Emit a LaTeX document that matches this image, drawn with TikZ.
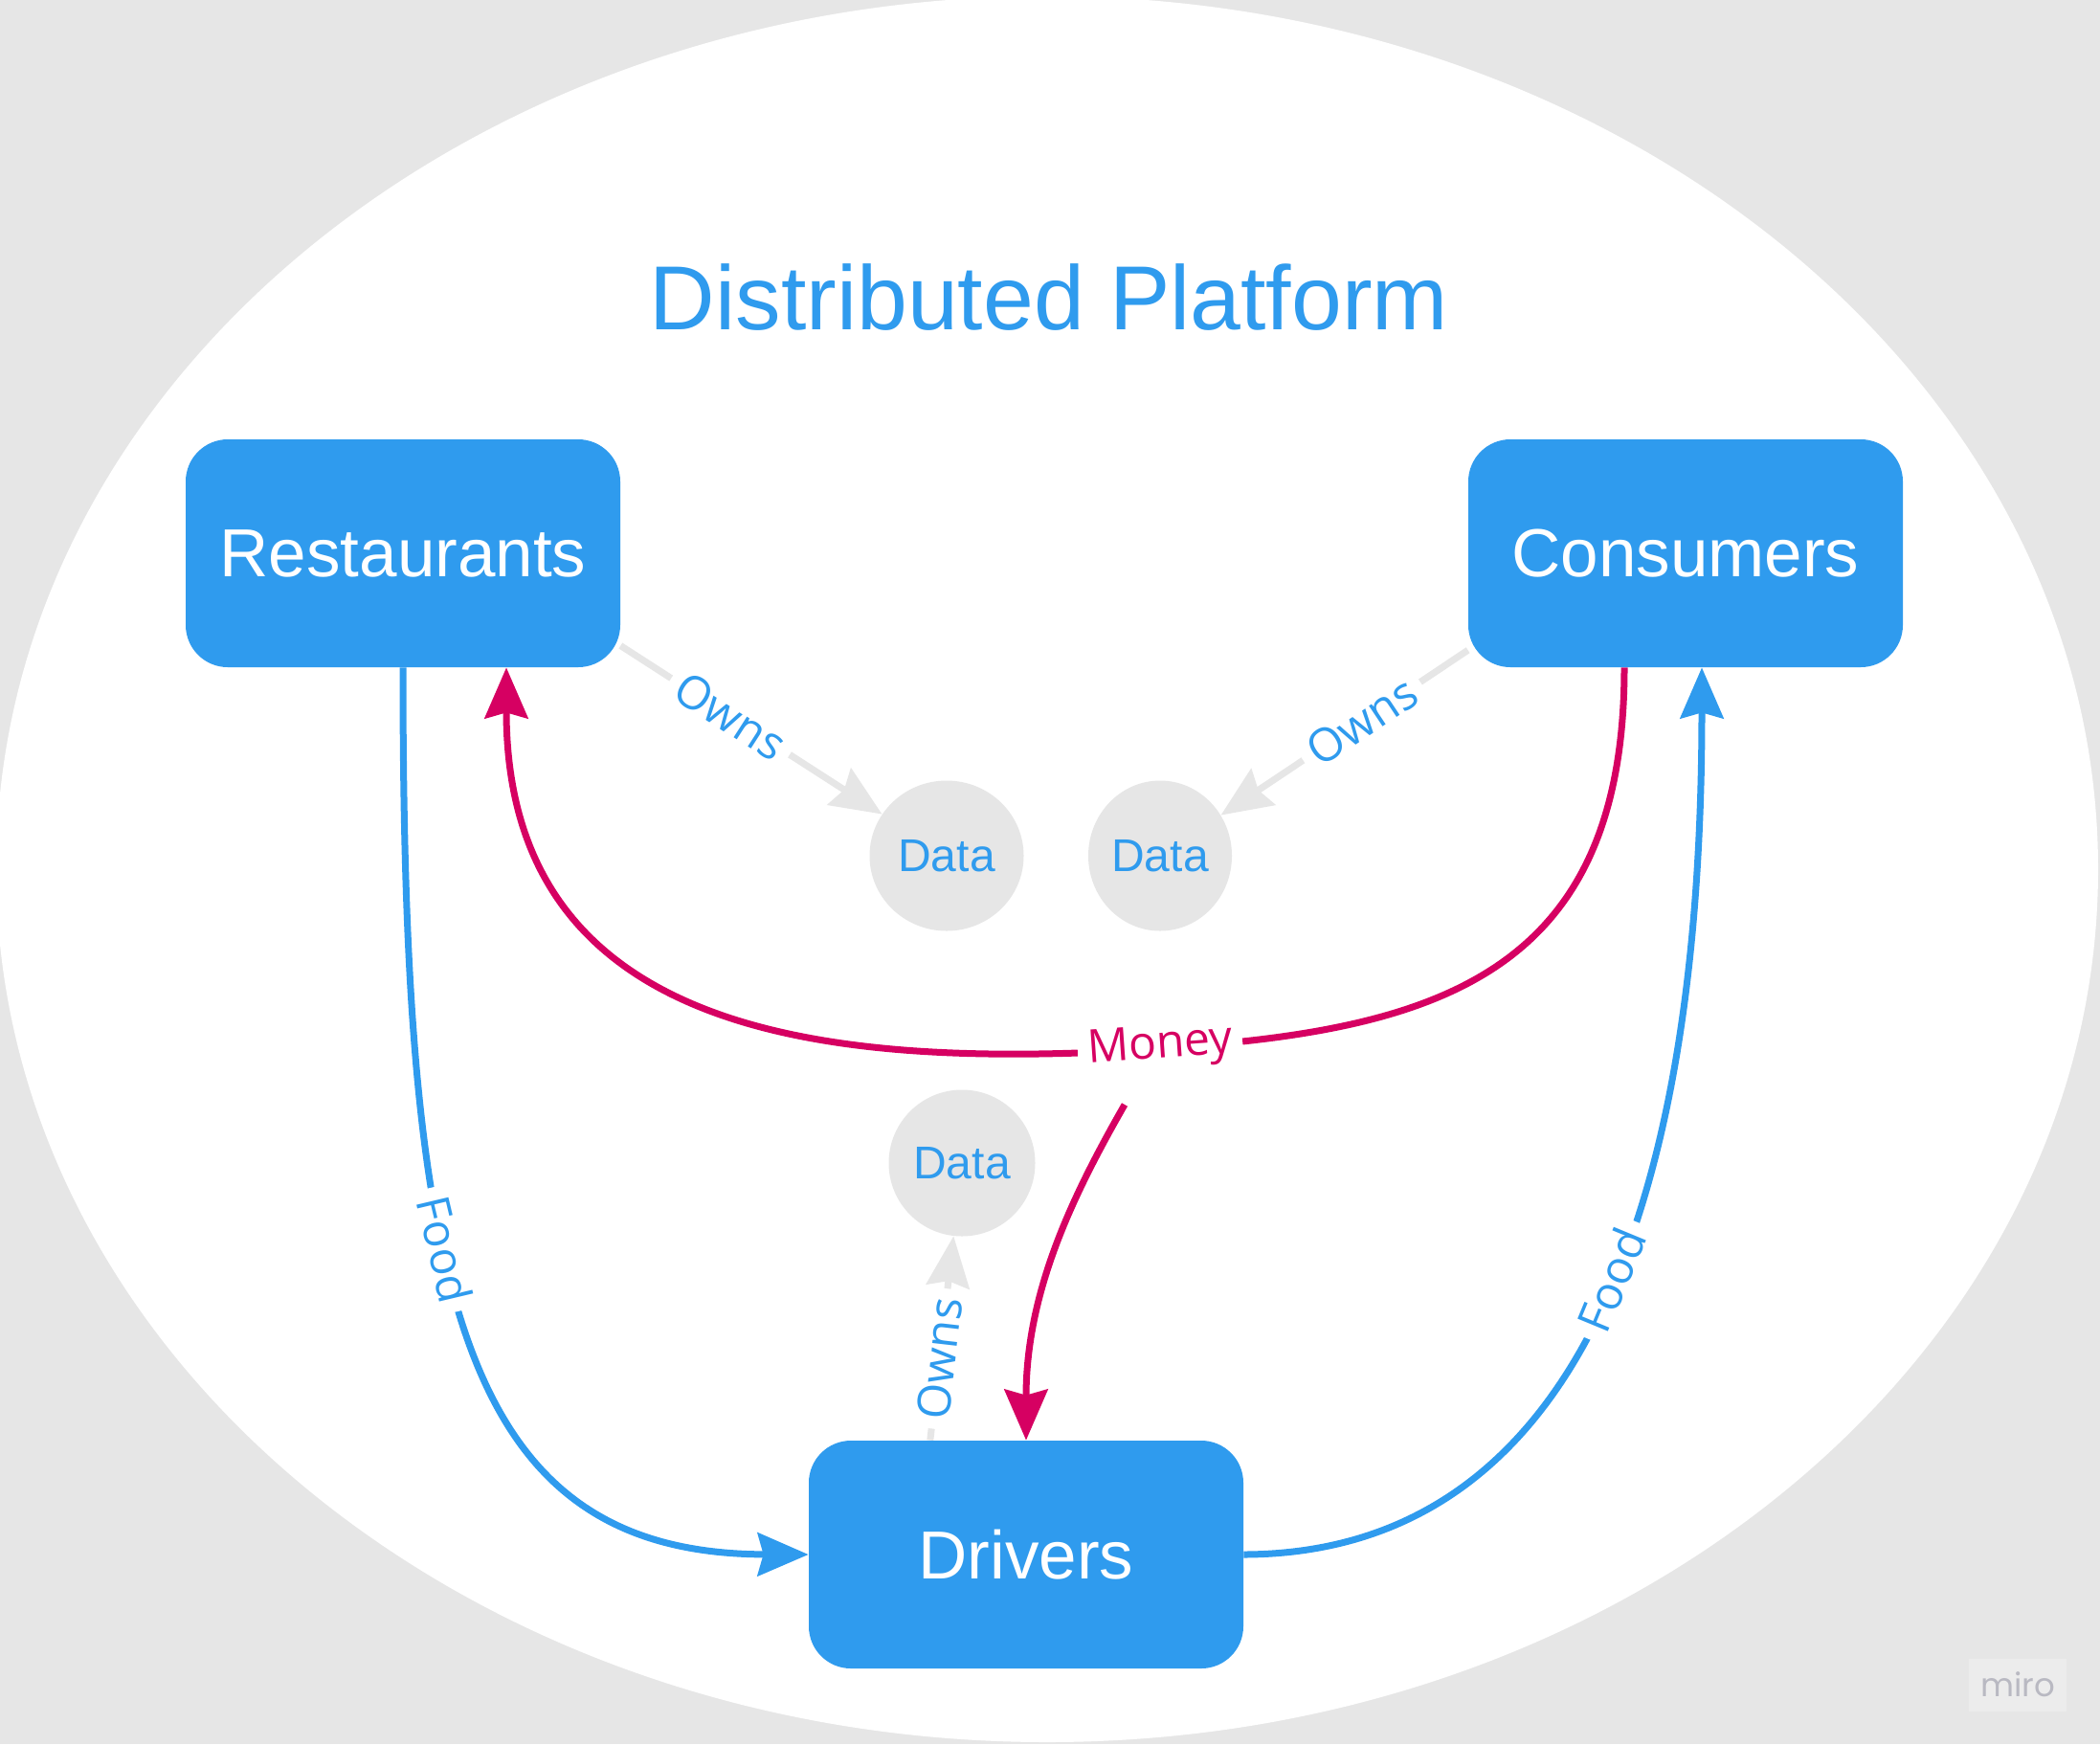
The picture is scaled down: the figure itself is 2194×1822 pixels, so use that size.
\documentclass[tikz,border=0pt]{standalone}
\usepackage{fontspec}
\setmainfont{Liberation Sans}
\newfontfamily\lblfont{Open Sans}
\newfontfamily\mirofont{Poppins}
\usetikzlibrary{arrows.meta,shapes.geometric}
\definecolor{mblue}{RGB}{47,155,238}
\definecolor{mmag}{RGB}{214,0,98}
\definecolor{mgray}{RGB}{230,230,230}
\definecolor{bggray}{RGB}{230,230,230}
\definecolor{mirobox}{RGB}{236,236,236}
\definecolor{mirotext}{RGB}{185,185,194}
\pgfdeclarelayer{bg}
\pgfdeclarelayer{edges}
\pgfsetlayers{bg,edges,main}
\tikzset{
  box/.style={rectangle, rounded corners=22pt, fill=mblue, text=white,
    minimum width=227pt, minimum height=119pt, inner sep=0pt,
    font=\fontsize{35.5}{40}\selectfont},
  datanode/.style={ellipse, fill=mgray, text=mblue, inner sep=0pt,
    font=\fontsize{24}{27}\selectfont},
  conn/.style={line width=3.5pt},
  tipped/.style={-{Stealth[length=26.5pt,width=22.5pt,inset=3pt]}},
  lbl/.style={fill=white, text=mblue, inner sep=5pt, sloped,
    font=\lblfont\fontsize{24}{28}\selectfont},
}
\begin{document}
\begin{tikzpicture}[x=0.5pt,y=-0.5pt]
\useasboundingbox (0,0) rectangle (2194,1822);
\begin{pgfonlayer}{bg}
  \fill[bggray] (0,0) rectangle (2194,1822);
  \fill[white] (1094,908) ellipse [x radius=549pt, y radius=456pt];
\end{pgfonlayer}

\node[font=\fontsize{47.5}{54}\selectfont, text=mblue] (title) at (1096,311) {Distributed Platform};

\node[box] (rest) at (421,578) {Restaurants};
\node[box] (cons) at (1761,578) {Consumers};
\node[box] (drv) at (1072,1624) {Drivers};

\node[datanode, minimum width=80.5pt, minimum height=78.5pt] (d1) at (989,894) {Data};
\node[datanode, minimum width=75pt, minimum height=78.5pt] (d2) at (1212,894) {Data};
\node[datanode, minimum width=76.5pt, minimum height=76.5pt] (d3) at (1005,1215) {Data};

\node[fill=mirobox, minimum width=51pt, minimum height=27.5pt, inner sep=0pt,
  text=mirotext, font=\mirofont\fontsize{17}{19}\selectfont] (miro) at (2108,1760) {miro};

\node[fill=white, text=mmag, inner sep=5pt, rotate=4,
  font=\lblfont\fontsize{24}{28}\selectfont] (money) at (1212,1094) {Money};
\coordinate (m2) at (1175,1154);

\begin{pgfonlayer}{edges}
  % Owns
  \draw[conn, mgray, tipped] (rest.-23) -- (d1) node[lbl, pos=0.42] {Owns};
  \draw[conn, mgray, tipped] (cons.204) -- (d2) node[lbl, pos=0.43] {Owns};
  \draw[conn, mgray, tipped] (drv.130) -- (d3) node[lbl, pos=0.40] {Owns};
  % Food
  \draw[conn, mblue, tipped] (rest.south) .. controls (421,1350) and (480,1623) .. (drv.west)
    node[lbl, pos=0.4] {Food};
  \draw[conn, mblue, tipped] (drv.east) .. controls (1600,1623) and (1778,1350) .. ([xshift=8.5pt]cons.south)
    node[lbl, pos=0.57] {Food};
  % Money
  \draw[conn, mmag] ([xshift=-32pt]cons.south) .. controls (1697,985) and (1540,1062) .. (money.east);
  \draw[conn, mmag, tipped] (money.west) .. controls (820,1110) and (529,1060) .. ([xshift=54pt]rest.south);
  \draw[conn, mmag, tipped] (m2) .. controls (1120,1250) and (1072,1350) .. (drv.north);
\end{pgfonlayer}
\end{tikzpicture}
\end{document}
